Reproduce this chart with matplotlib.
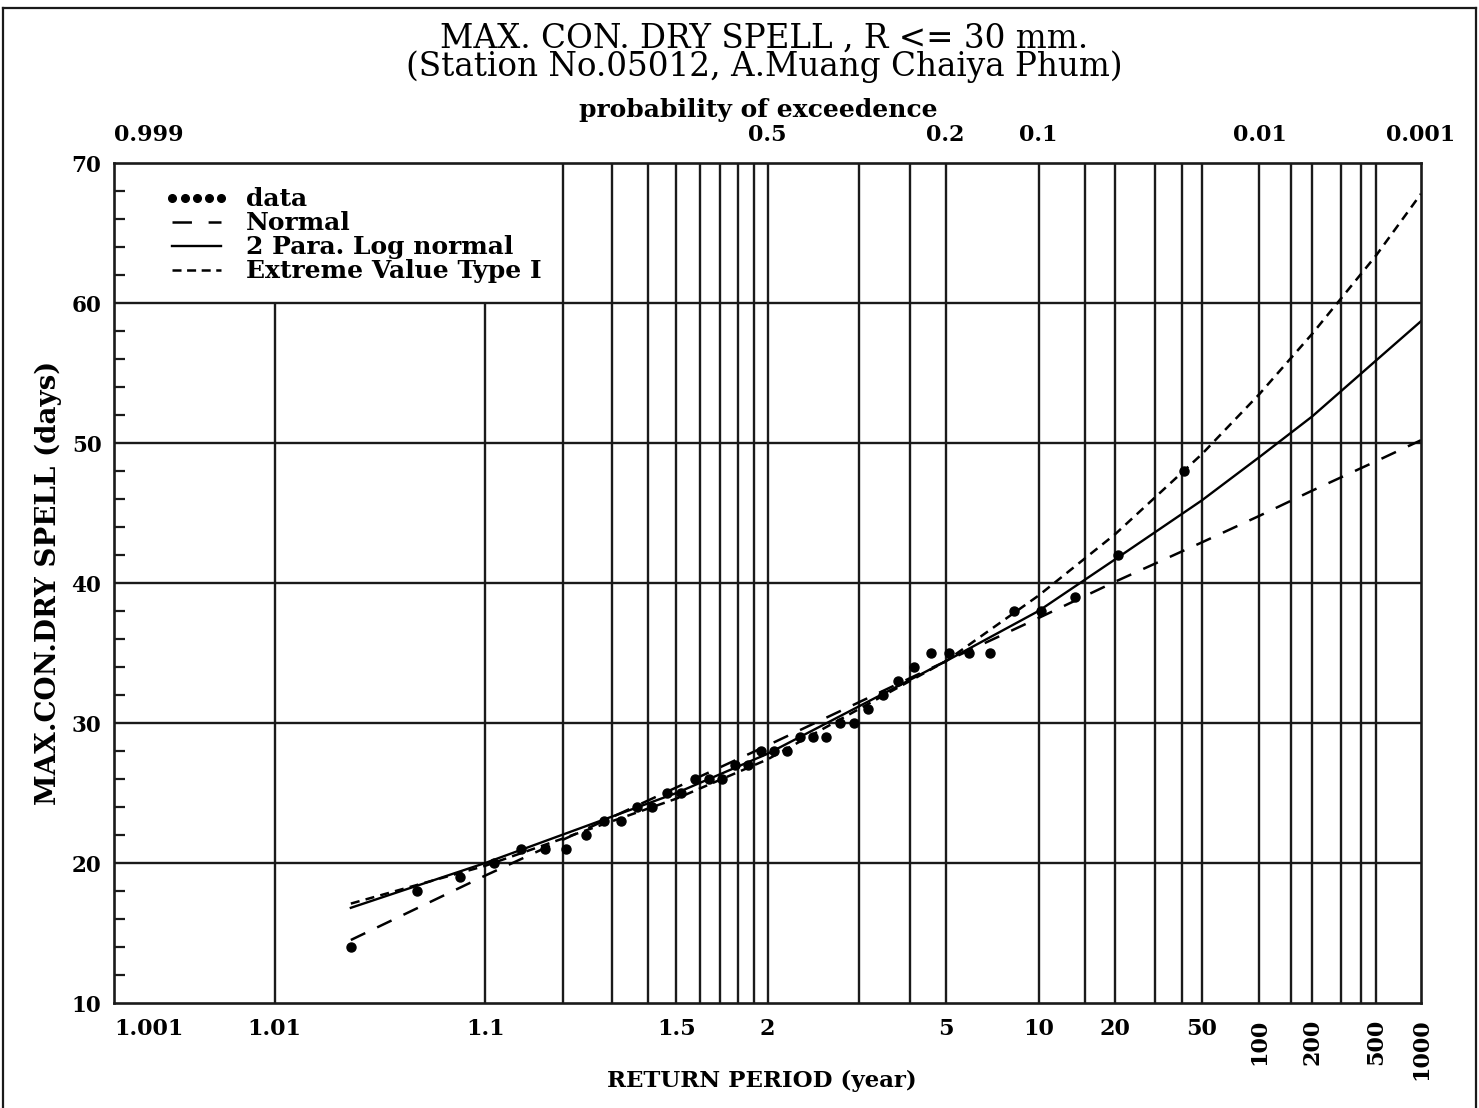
import numpy as np
import matplotlib
matplotlib.use('Agg')
import matplotlib.pyplot as plt
from matplotlib.lines import Line2D
from matplotlib.ticker import MultipleLocator
from statistics import NormalDist

plt.rcParams['font.family'] = ['DejaVu Serif']
plt.rcParams['lines.scale_dashes'] = False

# observed data (return period in years, max. consecutive dry spell in days)
ret_period = [1.025, 1.0513, 1.0789, 1.1081, 1.1389, 1.1714, 1.2059, 1.2424,
              1.2813, 1.3226, 1.3667, 1.4138, 1.4643, 1.5185, 1.5769, 1.64,
              1.7083, 1.7826, 1.8636, 1.9524, 2.05, 2.1579, 2.2778, 2.4118,
              2.5625, 2.7333, 2.9286, 3.1538, 3.4167, 3.7273, 4.1, 4.5556,
              5.125, 5.8571, 6.8333, 8.2, 10.25, 13.6667, 20.5, 41.0]
dry_spell = [14, 18, 19, 20, 21, 21, 21, 22, 23, 23, 24, 24, 25, 25, 26, 26,
             26, 27, 27, 28, 28, 28, 29, 29, 29, 30, 30, 31, 32, 33, 34, 35,
             35, 35, 35, 38, 38, 39, 42, 48]

# fitted curves
curve_T = [1.025, 1.1, 1.5, 2, 5, 10, 20, 50, 100, 200, 500, 1000]
normal_fit = [14.5, 19.1, 25.4, 28.4, 34.4, 37.5, 40.1, 42.9, 44.8, 46.6, 48.7, 50.2]
lognormal_fit = [16.8, 20.0, 25.0, 27.8, 34.4, 38.0, 41.7, 45.9, 49.0, 51.9, 55.9, 58.7]
ev1_fit = [17.1, 19.8, 24.6, 27.4, 34.4, 39.1, 43.5, 49.2, 53.5, 57.8, 63.4, 67.8]

# axis grid / labels
grid_T = [1.01, 1.1, 1.2, 1.3, 1.4, 1.5, 1.6, 1.7, 1.8, 1.9, 2, 3, 4, 5, 10,
          15, 20, 30, 40, 50, 100, 150, 200, 300, 400, 500]
xtick_T = [1.001, 1.01, 1.1, 1.5, 2, 5, 10, 20, 50, 100, 200, 500, 1000]
xtick_lab = ['1.001', '1.01', '1.1', '1.5', '2', '5', '10', '20', '50',
             '100', '200', '500', '1000']
top_p = [0.999, 0.5, 0.2, 0.1, 0.01, 0.001]
top_lab = ['0.999', '0.5', '0.2', '0.1', '0.01', '0.001']

# normal probability paper: x = z of non-exceedance 1 - 1/T
nd = NormalDist()
_ppf = np.vectorize(lambda p: nd.inv_cdf(p) if 0 < p < 1 else np.nan, otypes=[float])
_cdf = np.vectorize(nd.cdf, otypes=[float])


def t_to_z(T):
    T = np.asarray(T, dtype=float)
    with np.errstate(divide='ignore', invalid='ignore'):
        p = 1.0 - 1.0 / T
    return _ppf(np.clip(p, 1e-12, 1 - 1e-12))


def z_to_t(z):
    z = np.asarray(z, dtype=float)
    with np.errstate(divide='ignore', over='ignore'):
        return 1.0 / _cdf(-z)


W, H = 1479, 1108
fig = plt.figure(figsize=(W / 100, H / 100), dpi=100)
ax = fig.add_axes([114 / W, 1 - 1003 / H, (1421 - 114) / W, (1003 - 163) / H])
ax.set_xscale('function', functions=(t_to_z, z_to_t))
ax.set_xlim(1.001, 1000)
ax.set_ylim(10, 70)

gc = '#1a1a1a'
# grid (vertical lines left of T=1.2 stop under the legend box)
for t in grid_T:
    top = 60 if t < 1.2 else 70
    ax.vlines(t, 10, top, color=gc, lw=1.7, zorder=0.8)
for y in [20, 30, 40, 50, 60]:
    ax.hlines(y, 1.001, 1000, color=gc, lw=1.7, zorder=0.8)

for s in ax.spines.values():
    s.set_linewidth(1.9)
    s.set_color(gc)

ax.set_xticks(xtick_T)
ax.set_xticklabels(xtick_lab)
ax.minorticks_off()
ax.tick_params(axis='x', length=0, pad=11, labelsize=16)
for lab in ax.get_xticklabels():
    lab.set_fontweight('bold')
    if lab.get_text() in ('100', '200', '500', '1000'):
        lab.set_rotation(90)
    if lab.get_text() == '1.001':
        lab.set_ha('left')

ax.set_yticks(range(10, 71, 10))
ax.yaxis.set_minor_locator(MultipleLocator(2))
ax.tick_params(axis='y', which='major', length=0, pad=9, labelsize=15.5)
ax.tick_params(axis='y', which='minor', direction='in', length=8, width=1.6, color=gc)
for lab in ax.get_yticklabels():
    lab.set_fontweight('bold')

# curves and data
ax.plot(curve_T, normal_fit, color='k', lw=1.8, dashes=(11.5, 9.5))
ax.plot(curve_T, lognormal_fit, color='k', lw=1.7)
ax.plot(curve_T, ev1_fit, color='k', lw=1.8, dashes=(6.5, 4.5))
ax.plot(ret_period, dry_spell, 'o', color='k', ms=6.5, zorder=3)

# top axis: probability of exceedence
xt = ax.get_xaxis_transform()
for p, lab in zip(top_p, top_lab):
    if p == 0.999:
        ax.text(1 / p, 1.0333, lab, transform=xt, ha='left', va='center',
                fontsize=16, fontweight='bold')
    else:
        ax.text(1 / p, 1.0333, lab, transform=xt, ha='center', va='center',
                fontsize=16, fontweight='bold')
fig.text(758 / W, 1 - 110 / H, 'probability of exceedence', ha='center', va='center',
         fontsize=18, fontweight='bold')

fig.text(764 / W, 1 - 53 / H,
         'MAX. CON. DRY SPELL , R <= 30 mm.\n(Station No.05012, A.Muang Chaiya Phum)',
         ha='center', va='center', multialignment='center', linespacing=0.85,
         fontsize=23.5)

ax.set_xlabel('RETURN PERIOD (year)', fontsize=16.5, fontweight='bold')
ax.xaxis.set_label_coords(0.4958, -0.080)
ax.set_ylabel('MAX.CON.DRY SPELL (days)', fontsize=20, fontweight='bold')
ax.yaxis.set_label_coords(-0.040, 0.5)

# legend
handles = [
    Line2D([], [], ls='none', marker='o', ms=5.5, color='k'),
    Line2D([], [], color='k', lw=1.8, dashes=(14, 12)),
    Line2D([], [], color='k', lw=1.7),
    Line2D([], [], color='k', lw=1.8, dashes=(6.5, 4.0)),
]
labels = ['data', 'Normal', '2 Para. Log normal', 'Extreme Value Type I']
ax.legend(handles, labels, loc='upper left', bbox_to_anchor=(0.039, 0.971),
          frameon=False, numpoints=5, handlelength=2.55, handletextpad=0.68,
          labelspacing=0.0, borderpad=0, borderaxespad=0,
          prop={'family': 'DejaVu Serif', 'weight': 'bold', 'size': 18})

# page frame
for xs, ys in [((3, 3), (8, H)), ((3, 1476), (8, 8)), ((1476, 1476), (8, H))]:
    fig.add_artist(Line2D([x / W for x in xs], [1 - y / H for y in ys], color=gc, lw=1.6))

fig.savefig('out.png', dpi=100)
